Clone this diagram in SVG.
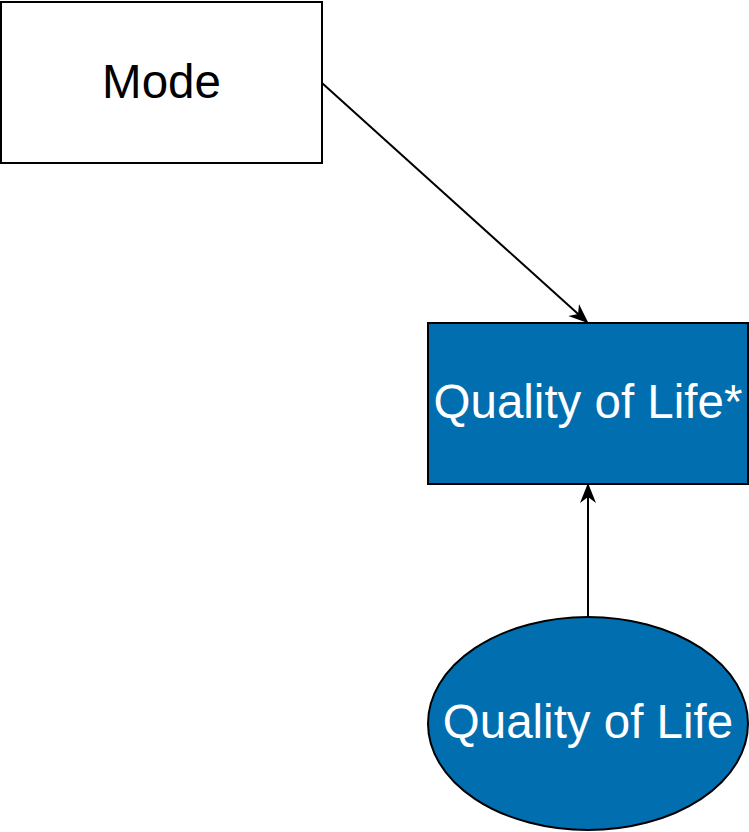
<svg xmlns="http://www.w3.org/2000/svg" width="749" height="832" viewBox="0 0 749 832">
<style>
.box{stroke:#000;stroke-width:2}
.lbl{font-family:"Liberation Sans",Arial,sans-serif;font-size:47.5px;text-anchor:middle}
.edge{stroke:#000;stroke-width:2;fill:none}
</style>
<defs>
<marker id="arr" viewBox="0 0 10 10" refX="9" refY="5" markerWidth="20" markerHeight="20" markerUnits="userSpaceOnUse" orient="auto">
<path d="M0,1 L10,5 L0,9 L3,5 Z" fill="#000"/>
</marker>
</defs>
<rect width="749" height="832" fill="#fff"/>
<g id="connectors">
<line class="edge" x1="322" y1="83" x2="587" y2="322" marker-end="url(#arr)"/>
<line class="edge" x1="588" y1="617" x2="588" y2="485" marker-end="url(#arr)"/>
</g>
<g id="mode">
<rect class="box" x="1" y="2" width="321" height="161" fill="#fff"/>
<text class="lbl" x="161.5" y="98" fill="#000">Mode</text>
</g>
<g id="qol-star">
<rect class="box" x="428" y="323" width="320" height="161" fill="#006EAF"/>
<text class="lbl" x="588" y="418" fill="#fff">Quality of Life*</text>
</g>
<g id="qol">
<ellipse class="box" cx="588" cy="723.5" rx="160" ry="106.5" fill="#006EAF"/>
<text class="lbl" x="588" y="738" fill="#fff">Quality of Life</text>
</g>
</svg>
